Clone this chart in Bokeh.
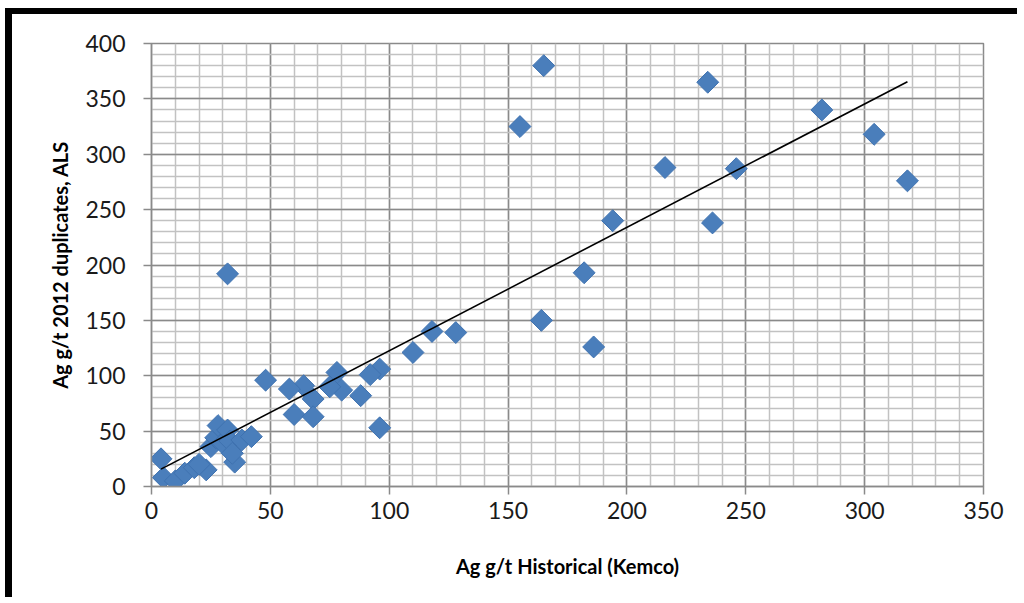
import numpy as np
from bokeh.plotting import figure
from bokeh.models import Range1d, SingleIntervalTicker, ColumnDataSource
from bokeh.embed import file_html
from bokeh.resources import INLINE

# Ag g/t Historical (Kemco) vs Ag g/t 2012 duplicates (ALS)
hist_x = [165, 234, 282, 304, 155, 216, 246, 318, 194, 236, 182, 32, 164, 186,
          118, 128, 110, 96, 92, 78, 80, 88, 96, 75, 64, 58, 48, 60, 68, 68,
          4, 5, 10, 14, 18, 23, 25, 27, 28, 30, 32, 33, 35, 38, 42, 34, 20]
dup_y = [380, 365, 340, 318, 325, 288, 287, 276, 240, 238, 193, 192, 150, 126,
         140, 139, 121, 106, 101, 103, 87, 82, 53, 90, 91, 88, 96, 65, 79, 63,
         25, 8, 5, 12, 17, 15, 36, 44, 55, 39, 51, 41, 22, 42, 45, 30, 20]

trend_slope = 1.114
trend_intercept = 11.2

x_title = "Ag g/t Historical (Kemco)"
y_title = "Ag g/t 2012 duplicates, ALS"

p = figure(width=1012, height=589, output_backend="svg", toolbar_location=None,
           x_range=Range1d(0, 350), y_range=Range1d(0, 400),
           min_border_left=139, min_border_right=41, min_border_top=29,
           min_border_bottom=117)
p.styles = {"border-top": "6px solid black", "border-left": "7px solid black",
            "margin-top": "8px", "margin-left": "5px"}
p.background_fill_color = "white"
p.border_fill_color = "white"
p.outline_line_color = "#8a8a8a"
p.outline_line_width = 1.5

for ax in (p.xaxis, p.yaxis):
    ax.ticker = SingleIntervalTicker(interval=50, num_minor_ticks=5)
    ax.axis_line_color = "#8a8a8a"
    ax.axis_line_width = 1.5
    ax.major_tick_line_color = "#8a8a8a"
    ax.major_tick_line_width = 1.5
    ax.major_tick_in = 0
    ax.major_tick_out = 8
    ax.minor_tick_line_color = None
    ax.major_label_text_font = "Lato"
    ax.major_label_text_font_size = "23px"
    ax.major_label_text_color = "#1a1a1a"
    ax.axis_label_text_font = "Lato"
    ax.axis_label_text_font_style = "bold"
    ax.axis_label_text_font_size = "20px"
    ax.axis_label_text_color = "#000000"

p.xaxis.axis_label = x_title
p.yaxis.axis_label = y_title
p.xaxis.major_label_standoff = 7
p.yaxis.major_label_standoff = 18
p.xaxis.axis_label_standoff = 32
p.yaxis.axis_label_standoff = 10

for g in (p.xgrid, p.ygrid):
    g.ticker = SingleIntervalTicker(interval=50, num_minor_ticks=5)
    g.grid_line_color = "#8a8a8a"
    g.grid_line_width = 1.5
    g.minor_grid_line_color = "#c2c2c2"
    g.minor_grid_line_width = 1.5

src = ColumnDataSource(dict(x=hist_x, y=dup_y))
p.scatter("x", "y", source=src, marker="square", size=15.5, angle=np.pi / 4,
          fill_color="#4a7ebb", line_color="#3f72b0", line_width=1)

tx = np.array([min(hist_x), max(hist_x)], dtype=float)
ty = trend_slope * tx + trend_intercept
p.line(tx, ty, line_color="black", line_width=1.6)

open("out.html", "w").write(file_html(p, INLINE))
